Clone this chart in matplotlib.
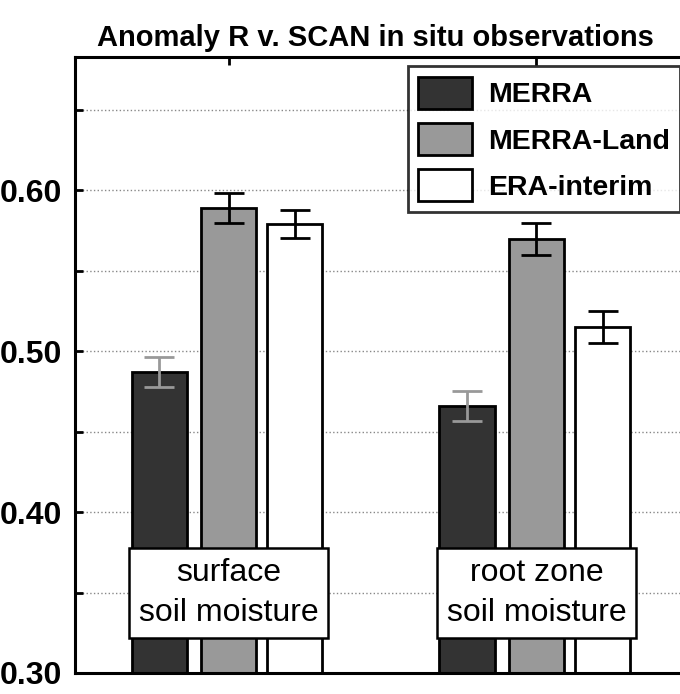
import numpy as np
import matplotlib
matplotlib.use('Agg')
from matplotlib import pyplot as plt
from matplotlib.patches import Patch

plt.rcParams['font.family'] = ['Liberation Sans', 'DejaVu Sans']

# data
groups = ['surface\nsoil moisture', 'root zone\nsoil moisture']
series = ['MERRA', 'MERRA-Land', 'ERA-interim']
values = {
    'MERRA':       [0.487, 0.466],
    'MERRA-Land':  [0.589, 0.570],
    'ERA-interim': [0.579, 0.515],
}
errors = {
    'MERRA':       [0.0095, 0.0095],
    'MERRA-Land':  [0.0095, 0.0100],
    'ERA-interim': [0.0088, 0.0100],
}
fill = {'MERRA': '#333333', 'MERRA-Land': '#999999', 'ERA-interim': 'white'}
ecol = {'MERRA': '#999999', 'MERRA-Land': 'black', 'ERA-interim': 'black'}
offsets = [-0.225, 0.0, 0.215]
y_ticks = np.arange(0.30, 0.651, 0.05)
y_labels = ['0.30', '', '0.40', '', '0.50', '', '0.60', '']

fig = plt.figure(figsize=(6.8, 6.94), dpi=100)
ax = fig.add_axes([0.110, 0.0303, 0.905, 0.8877])

x = np.arange(1, len(groups) + 1)
for s, off in zip(series, offsets):
    ax.bar(x + off, values[s], width=0.18, bottom=0.0, color=fill[s],
           edgecolor='black', linewidth=2.0, zorder=2)
    ax.errorbar(x + off, values[s], yerr=errors[s], fmt='none',
                ecolor=ecol[s], elinewidth=2.0, capsize=11, capthick=2.0,
                zorder=3)

for xi, g in zip(x, groups):
    ax.text(xi, 0.3497, g, ha='center', va='center', fontsize=23,
            linespacing=1.45, zorder=5,
            bbox=dict(boxstyle='square,pad=0.3', facecolor='white',
                      edgecolor='black', linewidth=1.8))

ax.set_xlim(0.5, 2.5)
ax.set_ylim(0.30, 0.683)
ax.set_xticks(x)
ax.set_xticklabels([])
ax.set_yticks(y_ticks)
ax.set_yticklabels(y_labels)
ax.tick_params(direction='in', top=True, bottom=False, length=6, width=2,
               labelsize=23, pad=9)
for lab in ax.get_yticklabels():
    lab.set_fontweight('bold')
ax.grid(axis='y', linestyle=':', color='#888888', linewidth=1.0, zorder=0)
ax.set_axisbelow(True)
for sp in ax.spines.values():
    sp.set_linewidth(2.2)

handles = [Patch(facecolor=fill[s], edgecolor='black', linewidth=2.0) for s in series]
leg = ax.legend(handles, series, loc='upper right', bbox_to_anchor=(0.984, 0.985),
                fontsize=20.5, frameon=True, fancybox=False, handlelength=1.88,
                handleheight=1.35, handletextpad=0.55, labelspacing=0.5,
                borderpad=0.38, borderaxespad=0)
leg.get_frame().set_edgecolor('black')
leg.get_frame().set_linewidth(2.0)
for t in leg.get_texts():
    t.set_fontweight('bold')
leg.set_zorder(6)

fig.text(0.552, 0.945, 'Anomaly R v. SCAN in situ observations', ha='center',
         va='center', fontsize=21, fontweight='bold')

fig.savefig('out.png', dpi=100)
